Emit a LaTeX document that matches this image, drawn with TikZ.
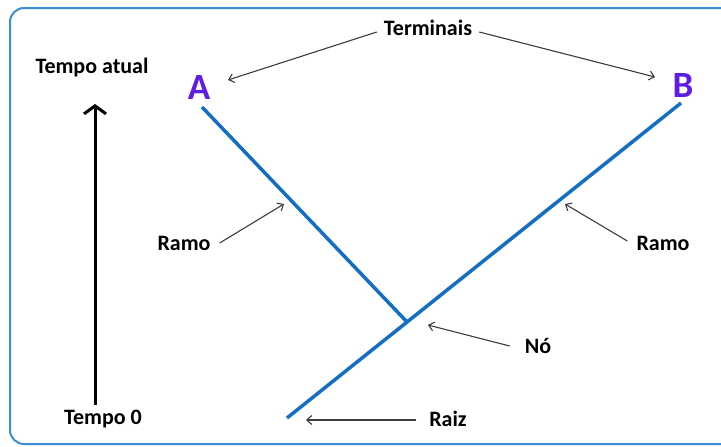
\documentclass[tikz,border=0pt]{standalone}
\usepackage{fontspec}
\setmainfont{Carlito}
\usetikzlibrary{arrows.meta}
\definecolor{framecol}{RGB}{60,140,215}
\definecolor{branchcol}{RGB}{20,110,195}
\definecolor{tipcol}{RGB}{95,30,230}
\definecolor{pointcol}{RGB}{60,60,60}
\begin{document}
\begin{tikzpicture}[x=1pt, y=-1pt,
    lbl/.style={font=\bfseries\fontsize{22}{24}\selectfont, inner sep=1pt},
    tiplbl/.style={font=\bfseries\fontsize{37}{40}\selectfont, text=tipcol, inner sep=0pt},
    pointer/.style={draw=pointcol, line width=1.1pt, -{Straight Barb[length=5pt,width=9pt]}},
    branch/.style={draw=branchcol, line width=3.5pt}]
    \useasboundingbox (0,0) rectangle (721,447);
    \begin{scope}
      \clip (0,0) rectangle (721,447);
      \draw[framecol, line width=2pt, rounded corners=14pt] (10,8) rectangle (760,444);
    \end{scope}
    % time axis
    \node[lbl] (now) at (92,68) {Tempo atual};
    \node[lbl] (zero) at (103,419) {Tempo 0};
    \draw[line width=3pt, -{Straight Barb[length=8pt,width=22pt]}] (95,405) -- (95,104);
    % tree
    \coordinate (tA) at (202,107);
    \coordinate (tB) at (681,103);
    \coordinate (knot) at (408,323);
    \coordinate (root) at (287,418);
    \draw[branch] (tA) -- (knot);
    \draw[branch] (tB) -- (root);
    \node[tiplbl] (A) at (199,88) {A};
    \node[tiplbl] (B) at (683,86) {B};
    % labels
    \node[lbl] (term) at (428,28) {Terminais};
    \node[lbl] (ramoL) at (184,243) {Ramo};
    \node[lbl] (ramoR) at (663,243) {Ramo};
    \node[lbl] (no) at (538,346) {Nó};
    \node[lbl] (raiz) at (448,419) {Raiz};
    \coordinate (pA) at (228,80);
    \coordinate (pB) at (655,77);
    \coordinate (pL) at (284,204);
    \coordinate (pR) at (565,204);
    \coordinate (pN) at (428,325);
    \coordinate (pZ) at (306,420);
    \draw[pointer] (term.west) ++(-6,4) -- (pA);
    \draw[pointer] (term.east) ++(6,4) -- (pB);
    \draw[pointer] (ramoL.east) ++(8,0) -- (pL);
    \draw[pointer] (ramoR.west) ++(-8,-2) -- (pR);
    \draw[pointer] (no.west) ++(-14,0) -- (pN);
    \draw[pointer] (raiz.west) ++(-12,1) -- (pZ);
\end{tikzpicture}
\end{document}
